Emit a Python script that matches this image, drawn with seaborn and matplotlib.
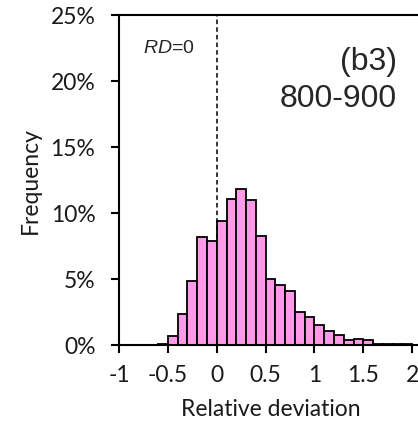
import numpy as np
import pandas as pd
import matplotlib
matplotlib.use("Agg")
import matplotlib.pyplot as plt
import seaborn as sns
from matplotlib.ticker import FuncFormatter

# Bin edges (relative deviation) and frequencies (%)
bin_left = [-0.7, -0.6, -0.5, -0.4, -0.3, -0.2, -0.1, 0.0, 0.1, 0.2, 0.3, 0.4,
            0.5, 0.6, 0.7, 0.8, 0.9, 1.0, 1.1, 1.2, 1.3, 1.4, 1.5, 1.6, 1.7,
            1.8, 1.9, 2.0]
freq_pct = [0.02, 0.1, 0.71, 2.33, 4.86, 8.18, 7.85, 9.37, 11.04, 11.8, 11.0, 8.28,
            4.99, 4.56, 4.1, 2.53, 2.1, 1.55, 1.09, 0.73, 0.38, 0.46, 0.38, 0.06, 0.05,
            0.05, 0.04, 0.03]
bin_width = 0.1

x_ticks = [-1, -0.5, 0, 0.5, 1, 1.5, 2]
x_tick_labels = ["-1", "-0.5", "0", "0.5", "1", "1.5", "2"]
y_ticks = [0, 5, 10, 15, 20, 25]

panel_label = "(b3)"
range_label = "800-900"
rd_label = "$RD$=0"

sns.set_style("ticks")
plt.rcParams['font.family'] = ['Lato', 'DejaVu Sans']
plt.rcParams['mathtext.fontset'] = 'custom'
plt.rcParams['mathtext.it'] = 'Liberation Sans:italic'
plt.rcParams['mathtext.rm'] = 'Liberation Sans'

df = pd.DataFrame({"center": np.array(bin_left) + bin_width / 2, "freq": freq_pct})
edges = list(np.round(np.array(bin_left), 3)) + [round(bin_left[-1] + bin_width, 3)]

fig = plt.figure(figsize=(4.18, 4.27), dpi=100)
ax = fig.add_axes([119 / 418, 1 - 346 / 427, 303 / 418, 330 / 427])

ax.axvline(0, color="black", linestyle=(0, (3, 2)), linewidth=1.1, zorder=0)

sns.histplot(data=df, x="center", weights="freq", bins=edges, ax=ax,
             color="#FF99E8", alpha=1, edgecolor="black", linewidth=1.3, zorder=2)

ax.set_xlim(-1, 2.1)
ax.set_ylim(0, 25)
ax.set_xticks(x_ticks)
ax.set_xticklabels(x_tick_labels)
ax.set_yticks(y_ticks)
ax.yaxis.set_major_formatter(FuncFormatter(lambda v, p: f"{v:.0f}%"))

for s in ["left", "bottom", "top", "right"]:
    ax.spines[s].set_linewidth(1.5)
    ax.spines[s].set_color("black")

ax.tick_params(axis="both", which="major", length=6, width=1.5, color="black",
               labelsize=16.5, labelcolor="#1a1a1a")
ax.tick_params(axis="y", pad=11)
ax.tick_params(axis="x", pad=8)
ax.set_xlabel("Relative deviation", fontsize=16.5, color="#1a1a1a", labelpad=9)
ax.set_ylabel("Frequency", fontsize=16.5, color="#1a1a1a", labelpad=7)

ax.text(1.846, 20.9, panel_label, ha="right", va="baseline", fontsize=23,
        family=["Liberation Sans", "DejaVu Sans"])
ax.text(1.846, 18.1, range_label, ha="right", va="baseline", fontsize=23,
        family=["Liberation Sans", "DejaVu Sans"])
ax.text(-0.754, 22.2, rd_label, ha="left", va="baseline", fontsize=14,
        family=["Liberation Sans", "DejaVu Sans"])

fig.savefig("out.png", dpi=100)
